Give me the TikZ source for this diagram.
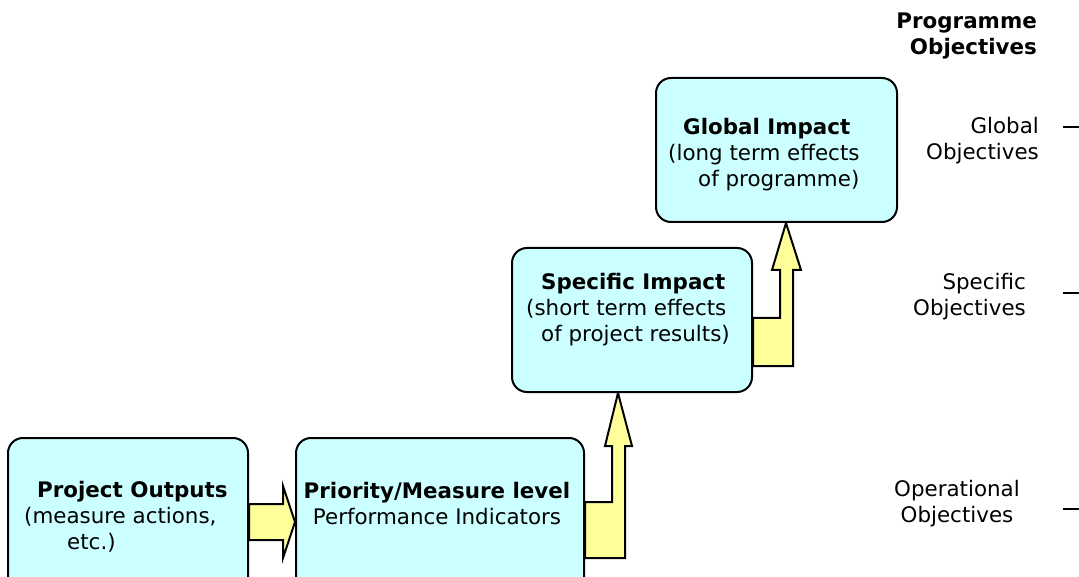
\documentclass[tikz,border=0pt]{standalone}
\usepackage{fontspec}
\setmainfont{DejaVu Sans}
\usetikzlibrary{backgrounds}
\definecolor{boxcyan}{HTML}{CCFFFF}
\definecolor{arrowyellow}{HTML}{FFFF99}
\tikzset{
    levelbox/.style={draw, line width=2pt, fill=boxcyan, rounded corners=15pt, inner sep=0pt},
    fatarrow/.style={draw, line width=2pt, fill=arrowyellow, line join=miter},
    boxtext/.style={inner sep=0pt, font=\fontsize{21.4}{26}\selectfont},
}
\begin{document}
\begin{tikzpicture}[x=1pt, y=-1pt]
    \useasboundingbox (0,0) rectangle (1079,577);
    % the four levels
    \node[levelbox, minimum width=240pt, minimum height=158pt] (outputs) at (128,517) {};
    \node[levelbox, minimum width=288pt, minimum height=158pt] (priority) at (440,517) {};
    \node[levelbox, minimum width=240pt, minimum height=144pt] (specific) at (632,320) {};
    \node[levelbox, minimum width=241pt, minimum height=144pt] (global) at (776.5,150) {};
    \node[boxtext, anchor=west, align=left] (outputs-text) at (24,517)
        {\hspace*{13pt}\textbf{Project Outputs}\\(measure actions,\\\hspace*{43pt}etc.)};
    \node[boxtext, align=center] (priority-text) at (437,504)
        {\textbf{Priority/Measure level}\\Performance Indicators};
    \node[boxtext, anchor=west, align=left] (specific-text) at (526,310)
        {\hspace*{15pt}\textbf{Specific Impact}\\(short term effects\\\hspace*{15pt}of project results)};
    \node[boxtext, anchor=west, align=left] (global-text) at (668,155)
        {\hspace*{15pt}\textbf{Global Impact}\\(long term effects\\\hspace*{30pt}of programme)};
    % block arrows, kept under the boxes
    \begin{pgfonlayer}{background}
        \draw[fatarrow] (outputs.east |- 0,504) -- (283,504) -- (283,486) -- (priority.west |- 0,522)
            -- (283,558) -- (283,540) -- (outputs.east |- 0,540) -- cycle;
        \draw[fatarrow] (priority.east |- 0,502) -- (612,502) -- (612,446) -- (605,446) -- (618,0 |- specific.south)
            -- (632,446) -- (625,446) -- (625,558) -- (priority.east |- 0,558) -- cycle;
        \draw[fatarrow] (specific.east |- 0,318) -- (780,318) -- (780,270) -- (772,270) -- (786,0 |- global.south)
            -- (801,270) -- (793,270) -- (793,366) -- (specific.east |- 0,366) -- cycle;
    \end{pgfonlayer}
    % objectives column
    \node[boxtext, anchor=east, align=right] (programme) at (1037,36) {\textbf{Programme}\\\textbf{Objectives}};
    \node[boxtext, anchor=east, align=right] (global-obj) at (1039,141) {Global\\Objectives};
    \node[boxtext, anchor=east, align=right] (specific-obj) at (1026,297) {Specific\\Objectives};
    \node[boxtext, align=center] (operational-obj) at (957,504) {Operational\\Objectives};
    \foreach \y in {127,293,509}
        \draw[line width=2pt] (1063,\y) -- (1079,\y);
\end{tikzpicture}
\end{document}
